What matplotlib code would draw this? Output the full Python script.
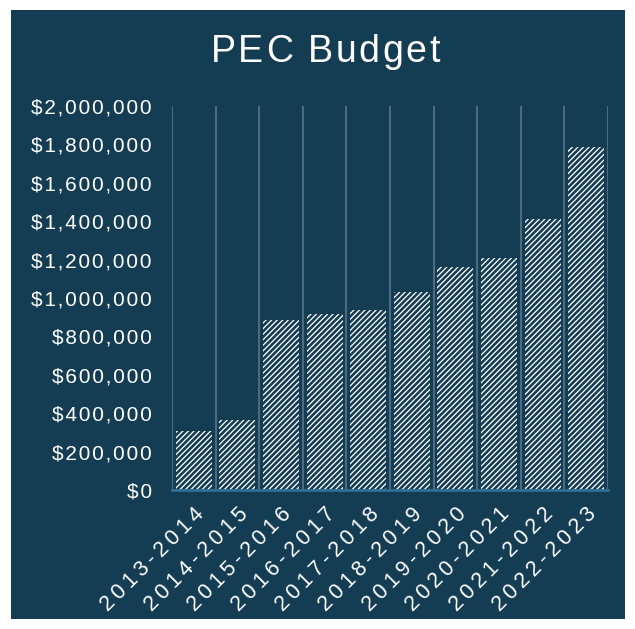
import matplotlib.pyplot as plt
from matplotlib.patches import Rectangle
from matplotlib.ticker import FuncFormatter

plt.rcParams['font.family'] = ['Liberation Sans', 'DejaVu Sans']
plt.rcParams['hatch.linewidth'] = 1.9

years = ['2013-2014', '2014-2015', '2015-2016', '2016-2017', '2017-2018',
         '2018-2019', '2019-2020', '2020-2021', '2021-2022', '2022-2023']
budget = [305000, 365000, 885000, 917000, 938000,
          1031000, 1161000, 1208000, 1411000, 1786000]
title = 'PEC Budget'

bg = '#143d53'
THIN = '\u2009'
HAIR = '\u200a'


def spaced(s, sep=THIN):
    return sep.join(s)


fig = plt.figure(figsize=(6.35, 6.29), dpi=100, facecolor='white')
fig.patches.append(Rectangle((11 / 635, 10 / 629), 614 / 635, 609 / 629,
                             transform=fig.transFigure, facecolor=bg,
                             edgecolor='none', zorder=-5))

ax = fig.add_axes([172 / 635, (629 - 490) / 629, 436 / 635, 384 / 629])
ax.set_facecolor(bg)

x = range(len(years))
ax.bar(x, budget, width=0.83, color='white', edgecolor=bg, linewidth=0,
       hatch='//////', zorder=3)

ax.set_xlim(-0.5, len(years) - 0.5)
ax.set_ylim(0, 2000000)
ax.set_yticks(range(0, 2000001, 200000))
ax.yaxis.set_major_formatter(FuncFormatter(lambda v, p: spaced(f'${v:,.0f}', HAIR)))
ax.set_xticks(list(x))
ax.set_xticklabels([spaced(y) for y in years], rotation=45, ha='right',
                   rotation_mode='anchor')

# vertical grid between categories
for b in range(len(years) + 1):
    ax.axvline(b - 0.5, color='#4d6b7e', linewidth=1.5, zorder=1)

for s in ['top', 'right', 'left']:
    ax.spines[s].set_visible(False)
ax.spines['bottom'].set_color('#2f6f95')
ax.spines['bottom'].set_linewidth(2)
ax.spines['bottom'].set_zorder(4)

ax.tick_params(axis='both', length=0, colors='white')
ax.tick_params(axis='y', pad=14.5, labelsize=15)
ax.tick_params(axis='x', pad=10, labelsize=15.5)

# title with letter spacing, drawn char by char
renderer = fig.canvas.get_renderer()
gap = 2.5
widths = []
for ch in title:
    t = fig.text(0, 0, ch, fontsize=27)
    w = t.get_window_extent(renderer).width
    if ch == ' ':
        w = t.get_window_extent(renderer).width or 10
    widths.append(w)
    t.remove()
total = sum(widths) + gap * (len(title) - 1)
xpos = 325 - total / 2
for ch, w in zip(title, widths):
    fig.text(xpos / 635, 1 - 52 / 629, ch, color='white', fontsize=27,
             ha='left', va='center')
    xpos += w + gap

plt.savefig('out.png', dpi=100, facecolor='white')
